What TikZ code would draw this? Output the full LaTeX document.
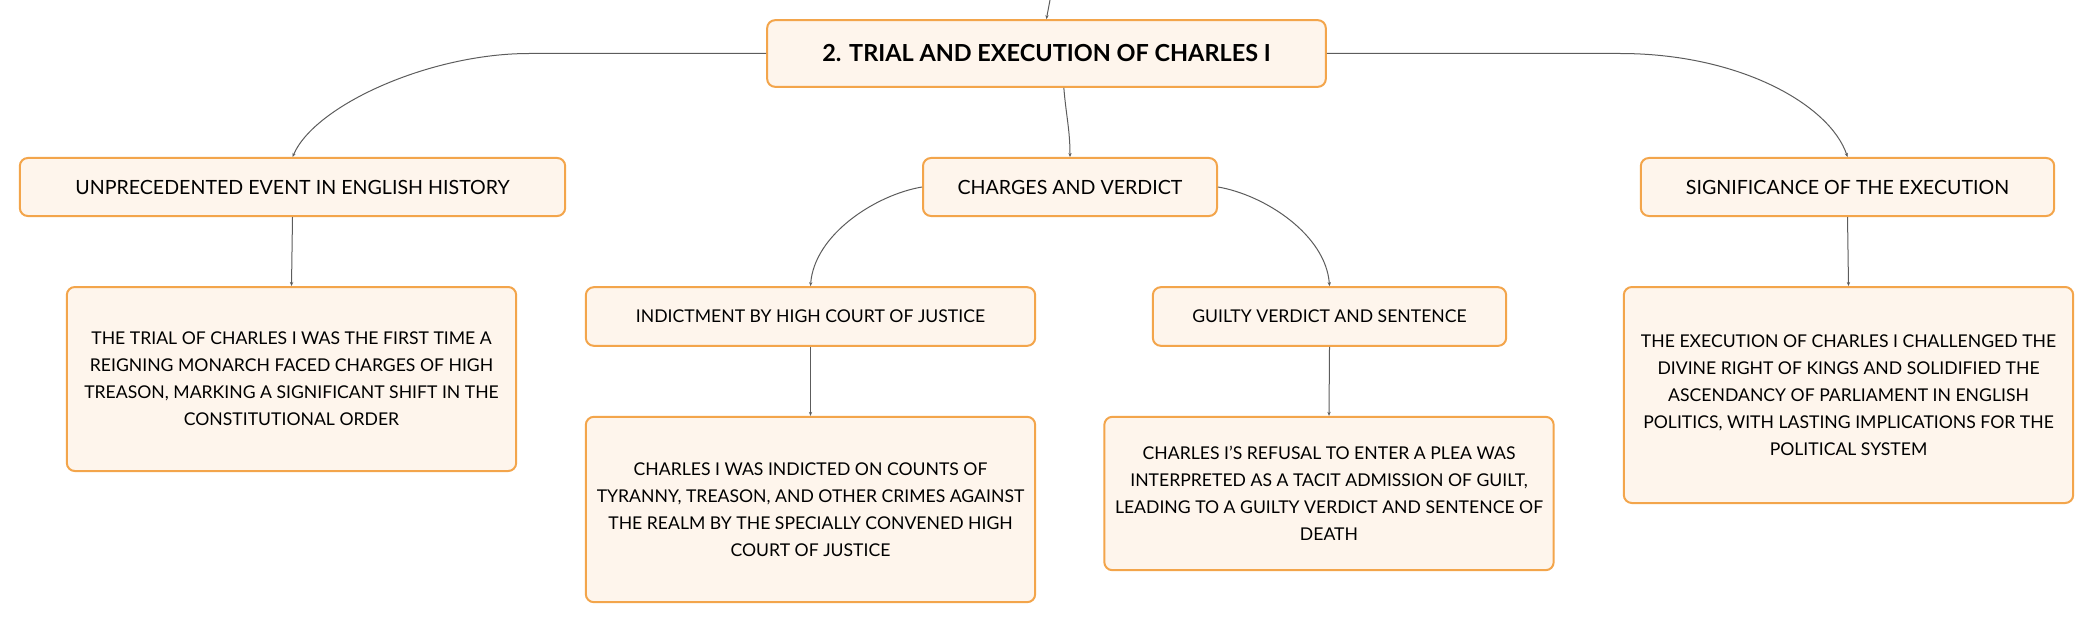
\documentclass[tikz,border=0pt]{standalone}
\usepackage{fontspec}
\setmainfont{Lato}
\usetikzlibrary{arrows.meta}
\definecolor{boxline}{HTML}{F3A54B}
\definecolor{boxfill}{HTML}{FEF5EC}
\definecolor{linkgray}{HTML}{5C5C5C}
\tikzset{
    topic/.style={draw=boxline, fill=boxfill, line width=1.5pt, rounded corners=6pt, align=center, inner sep=0pt},
    rootbox/.style={topic, minimum width=419pt, minimum height=50pt, font=\fontsize{17.6}{20}\selectfont\bfseries},
    mainbox/.style={topic, minimum height=43.5pt, font=\fontsize{14.7}{17}\selectfont},
    subbox/.style={topic, minimum height=44pt, font=\fontsize{13.2}{16}\selectfont},
    notebox/.style={topic, minimum width=337pt, font=\fontsize{13.2}{20.3}\selectfont},
    link/.style={draw=linkgray, line width=0.75pt, -{Stealth[length=3pt,width=2.5pt]}},
}
\begin{document}
\begin{tikzpicture}[x=0.75pt, y=-0.75pt]
            \useasboundingbox (0, 0) rectangle (2094, 624);
            \node[rootbox] (root) at (1046.5, 53.5) {2. TRIAL AND EXECUTION OF CHARLES I};
            \node[mainbox, minimum width=409pt] (event) at (292.5, 187) {UNPRECEDENTED EVENT IN ENGLISH HISTORY};
            \node[mainbox, minimum width=220.5pt] (charges) at (1070, 187) {CHARGES AND VERDICT};
            \node[mainbox, minimum width=310pt] (signif) at (1847.5, 187) {SIGNIFICANCE OF THE EXECUTION};
            \node[subbox, minimum width=337pt] (indict) at (810.5, 316.5) {INDICTMENT BY HIGH COURT OF JUSTICE};
            \node[subbox, minimum width=265pt] (guilty) at (1329.5, 316.5) {GUILTY VERDICT AND SENTENCE};
            \node[notebox, minimum height=138pt] (eventnote) at (291.5, 379) {THE TRIAL OF CHARLES I WAS THE FIRST TIME A\\REIGNING MONARCH FACED CHARGES OF HIGH\\TREASON, MARKING A SIGNIFICANT SHIFT IN THE\\CONSTITUTIONAL ORDER};
            \node[notebox, minimum height=139pt] (indictnote) at (810.5, 509.5) {CHARLES I WAS INDICTED ON COUNTS OF\\TYRANNY, TREASON, AND OTHER CRIMES AGAINST\\THE REALM BY THE SPECIALLY CONVENED HIGH\\COURT OF JUSTICE};
            \node[notebox, minimum height=115pt] (guiltynote) at (1329, 493.5) {CHARLES I'S REFUSAL TO ENTER A PLEA WAS\\INTERPRETED AS A TACIT ADMISSION OF GUILT,\\LEADING TO A GUILTY VERDICT AND SENTENCE OF\\DEATH};
            \node[notebox, minimum height=162pt] (signifnote) at (1848.5, 395) {THE EXECUTION OF CHARLES I CHALLENGED THE\\DIVINE RIGHT OF KINGS AND SOLIDIFIED THE\\ASCENDANCY OF PARLIAMENT IN ENGLISH\\POLITICS, WITH LASTING IMPLICATIONS FOR THE\\POLITICAL SYSTEM};
            \coordinate (above) at (1050, 0);
            \draw[link] (above) .. controls (1048, 8) .. (root.north);
            \draw[link] (root.west) -- (529, 53.5) .. controls (430, 53.5) and (315, 105) .. (event.north);
            \draw[link] (root.east) -- (1620, 53.5) .. controls (1740, 53.5) and (1830, 105) .. (signif.north);
            \draw[link] ([xshift=13pt]root.south) .. controls (1066, 115) and (1070, 130) .. (charges.north);
            \draw[link] (charges.west) .. controls (875, 195) and (814, 235) .. (indict.north);
            \draw[link] (charges.east) .. controls (1265, 195) and (1326, 235) .. (guilty.north);
            \draw[link] (event.south) -- (eventnote.north);
            \draw[link] (signif.south) -- (signifnote.north);
            \draw[link] (indict.south) -- (indictnote.north);
            \draw[link] (guilty.south) -- (guiltynote.north);
        \end{tikzpicture}
\end{document}
